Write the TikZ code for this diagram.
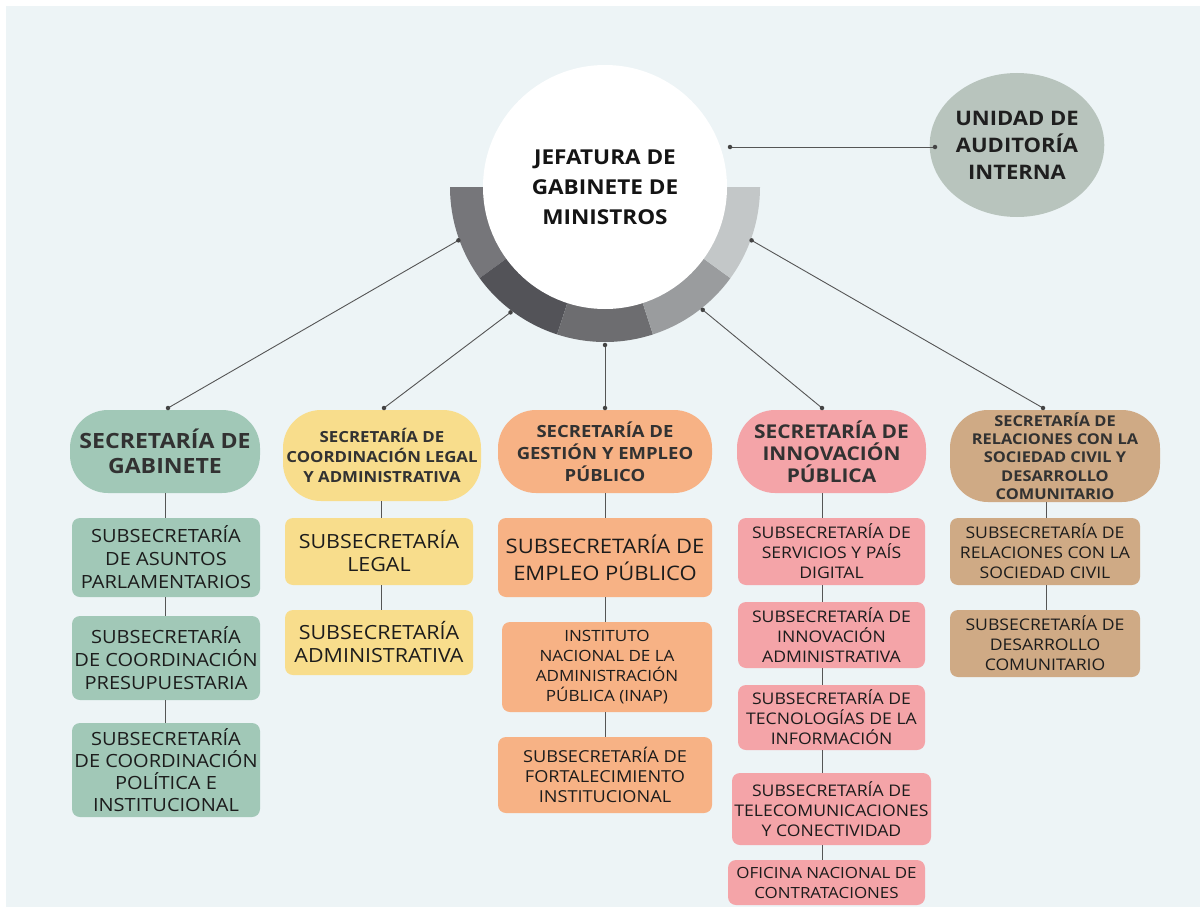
\documentclass[tikz,border=0pt]{standalone}
\usepackage{fontspec}
\setmainfont{Open Sans}[FakeStretch=1.1]
\usetikzlibrary{shapes.geometric,calc}
\definecolor{bg}{RGB}{237,244,246}
\definecolor{cgreen}{RGB}{161,200,183}
\definecolor{cyellow}{RGB}{248,221,140}
\definecolor{corange}{RGB}{247,178,133}
\definecolor{cpink}{RGB}{244,164,168}
\definecolor{ctan}{RGB}{207,170,133}
\definecolor{cgrayell}{RGB}{184,196,189}
\definecolor{segA}{RGB}{118,118,122}
\definecolor{segB}{RGB}{83,83,88}
\definecolor{segC}{RGB}{109,109,112}
\definecolor{segD}{RGB}{154,156,158}
\definecolor{segE}{RGB}{195,199,200}
\definecolor{txt}{RGB}{28,28,28}
\definecolor{ttl}{RGB}{50,50,50}
\definecolor{lin}{RGB}{85,85,85}
\newcommand{\fs}[2]{\fontsize{#1}{#2}\selectfont}
\begin{document}
\begin{tikzpicture}[x=1pt,y=-1pt,
  secbox/.style={rectangle, rounded corners=38pt, inner sep=0pt, align=center, text=ttl, font=\bfseries},
  subbox/.style={rectangle, rounded corners=8pt, inner sep=0pt, align=center, text=txt},
  conn/.style={draw=lin, line width=0.9pt},
  dot/.style={circle, fill=lin!80!black, inner sep=0pt, minimum size=4.5pt}]
\useasboundingbox (0,0) rectangle (1200,907);
\fill[white] (0,0) rectangle (1200,907);
\fill[bg] (6,6) rectangle (1200,907);

% ring segments
\coordinate (C) at (605,187);
\fill[segA] (C) -- ++(180:155) arc[start angle=180,end angle=144,radius=155] -- cycle;
\fill[segB] (C) -- ++(144:155) arc[start angle=144,end angle=108,radius=155] -- cycle;
\fill[segC] (C) -- ++(108:155) arc[start angle=108,end angle=72,radius=155] -- cycle;
\fill[segD] (C) -- ++(72:155) arc[start angle=72,end angle=36,radius=155] -- cycle;
\fill[segE] (C) -- ++(36:155) arc[start angle=36,end angle=0,radius=155] -- cycle;

\node[circle, fill=white, minimum size=244pt, inner sep=0pt, align=center, text=black!92, font=\bfseries\fs{20.5}{30}] (jgm) at (C) {JEFATURA DE\\GABINETE DE\\MINISTROS};

\node[ellipse, fill=cgrayell, minimum width=166pt, minimum height=144pt, inner sep=0pt, align=center, text=black!88, font=\bfseries\fs{20}{27}] (uai) at (1017,145) {UNIDAD DE\\AUDITORÍA\\INTERNA};

% column 1
\node[secbox, fill=cgreen, minimum width=190pt, minimum height=83pt, font=\bfseries\fs{21}{25}] (sec1) at (165,451.5) {SECRETARÍA DE\\GABINETE};
\node[subbox, fill=cgreen, minimum width=188pt, minimum height=79pt, font=\fs{18.2}{23}] (s11) at (166,557.5) {SUBSECRETARÍA\\DE ASUNTOS\\PARLAMENTARIOS};
\node[subbox, fill=cgreen, minimum width=188pt, minimum height=84pt, font=\fs{18.2}{23}] (s12) at (166,658) {SUBSECRETARÍA\\DE COORDINACIÓN\\PRESUPUESTARIA};
\node[subbox, fill=cgreen, minimum width=188pt, minimum height=94pt, font=\fs{18.2}{22}] (s13) at (166,770) {SUBSECRETARÍA\\DE COORDINACIÓN\\POLÍTICA E\\INSTITUCIONAL};

% column 2
\node[secbox, fill=cyellow, minimum width=198pt, minimum height=91pt, font=\bfseries\fs{15.3}{20}] (sec2) at (382,455.5) {SECRETARÍA DE\\COORDINACIÓN LEGAL\\Y ADMINISTRATIVA};
\node[subbox, fill=cyellow, minimum width=188pt, minimum height=67pt, font=\fs{19.5}{23}] (s21) at (379,551.5) {SUBSECRETARÍA\\LEGAL};
\node[subbox, fill=cyellow, minimum width=188pt, minimum height=65pt, font=\fs{19.5}{23}] (s22) at (379,642.5) {SUBSECRETARÍA\\ADMINISTRATIVA};

% column 3
\node[secbox, fill=corange, minimum width=214pt, minimum height=83pt, font=\bfseries\fs{16.8}{22}] (sec3) at (605,451.5) {SECRETARÍA DE\\GESTIÓN Y EMPLEO\\PÚBLICO};
\node[subbox, fill=corange, minimum width=214pt, minimum height=79pt, font=\fs{20}{27}] (s31) at (605,557.5) {SUBSECRETARÍA DE\\EMPLEO PÚBLICO};
\node[subbox, fill=corange, minimum width=210pt, minimum height=90pt, font=\fs{15.5}{20}] (s32) at (607,667) {INSTITUTO\\NACIONAL DE LA\\ADMINISTRACIÓN\\PÚBLICA (INAP)};
\node[subbox, fill=corange, minimum width=214pt, minimum height=76pt, font=\fs{16.5}{20}] (s33) at (605,775) {SUBSECRETARÍA DE\\FORTALECIMIENTO\\INSTITUCIONAL};

% column 4
\node[secbox, fill=cpink, minimum width=189pt, minimum height=83pt, font=\bfseries\fs{19}{22}] (sec4) at (831.5,451.5) {SECRETARÍA DE\\INNOVACIÓN\\PÚBLICA};
\node[subbox, fill=cpink, minimum width=187pt, minimum height=67pt, font=\fs{16}{20}] (s41) at (831.5,551.5) {SUBSECRETARÍA DE\\SERVICIOS Y PAÍS\\DIGITAL};
\node[subbox, fill=cpink, minimum width=187pt, minimum height=66pt, font=\fs{16}{20}] (s42) at (831.5,635) {SUBSECRETARÍA DE\\INNOVACIÓN\\ADMINISTRATIVA};
\node[subbox, fill=cpink, minimum width=187pt, minimum height=65pt, font=\fs{16}{20}] (s43) at (831.5,717.5) {SUBSECRETARÍA DE\\TECNOLOGÍAS DE LA\\INFORMACIÓN};
\node[subbox, fill=cpink, minimum width=199pt, minimum height=72pt, font=\fs{16}{20}] (s44) at (831.5,809) {SUBSECRETARÍA DE\\TELECOMUNICACIONES\\Y CONECTIVIDAD};
\node[subbox, fill=cpink, minimum width=197pt, minimum height=45pt, font=\fs{15.4}{20}] (s45) at (826.5,882.5) {OFICINA NACIONAL DE\\CONTRATACIONES};

% column 5
\node[secbox, fill=ctan, minimum width=210pt, minimum height=92pt, font=\bfseries\fs{14.9}{18.3}] (sec5) at (1055,456) {SECRETARÍA DE\\RELACIONES CON LA\\SOCIEDAD CIVIL Y\\DESARROLLO\\COMUNITARIO};
\node[subbox, fill=ctan, minimum width=190pt, minimum height=67pt, font=\fs{16}{20}] (s51) at (1045,551.5) {SUBSECRETARÍA DE\\RELACIONES CON LA\\SOCIEDAD CIVIL};
\node[subbox, fill=ctan, minimum width=190pt, minimum height=67pt, font=\fs{16}{20}] (s52) at (1045,643.5) {SUBSECRETARÍA DE\\DESARROLLO\\COMUNITARIO};

% column line x positions
\coordinate (L1) at (165,0);
\coordinate (L2) at (381,0);
\coordinate (L3) at (605,0);
\coordinate (L4) at (822,0);
\coordinate (L5) at (1046,0);

% vertical connectors
\draw[conn] (sec1.south -| L1) -- (s11.north -| L1);
\draw[conn] (s11.south -| L1) -- (s12.north -| L1);
\draw[conn] (s12.south -| L1) -- (s13.north -| L1);
\draw[conn] (sec2.south -| L2) -- (s21.north -| L2);
\draw[conn] (s21.south -| L2) -- (s22.north -| L2);
\draw[conn] (sec3.south -| L3) -- (s31.north -| L3);
\draw[conn] (s31.south -| L3) -- (s32.north -| L3);
\draw[conn] (s32.south -| L3) -- (s33.north -| L3);
\draw[conn] (sec4.south -| L4) -- (s41.north -| L4);
\draw[conn] (s41.south -| L4) -- (s42.north -| L4);
\draw[conn] (s42.south -| L4) -- (s43.north -| L4);
\draw[conn] (s43.south -| L4) -- (s44.north -| L4);
\draw[conn] (s44.south -| L4) -- (s45.north -| L4);
\draw[conn] (sec5.south -| L5) -- (s51.north -| L5);
\draw[conn] (s51.south -| L5) -- (s52.north -| L5);

% ring anchor points
\coordinate (r1) at ($(C)+(160:156)$);
\coordinate (r2) at ($(C)+(127:157)$);
\coordinate (r3) at ($(C)+(90:158)$);
\coordinate (r4) at ($(C)+(51.5:157)$);
\coordinate (r5) at ($(C)+(20:156)$);
\coordinate (ju) at (730,147);
\coordinate (t1) at (168,408);
\coordinate (t2) at (384,408);
\coordinate (t3) at (605,408);
\coordinate (t4) at (822,408);
\coordinate (t5) at (1043,408);
\coordinate (tu) at (935,147);

\draw[conn] (r1) -- (t1);
\draw[conn] (r2) -- (t2);
\draw[conn] (r3) -- (t3);
\draw[conn] (r4) -- (t4);
\draw[conn] (r5) -- (t5);
\draw[conn] (ju) -- (tu);
\foreach \p in {r1,r2,r3,r4,r5,ju,t1,t2,t3,t4,t5,tu} \node[dot] at (\p) {};
\end{tikzpicture}
\end{document}
